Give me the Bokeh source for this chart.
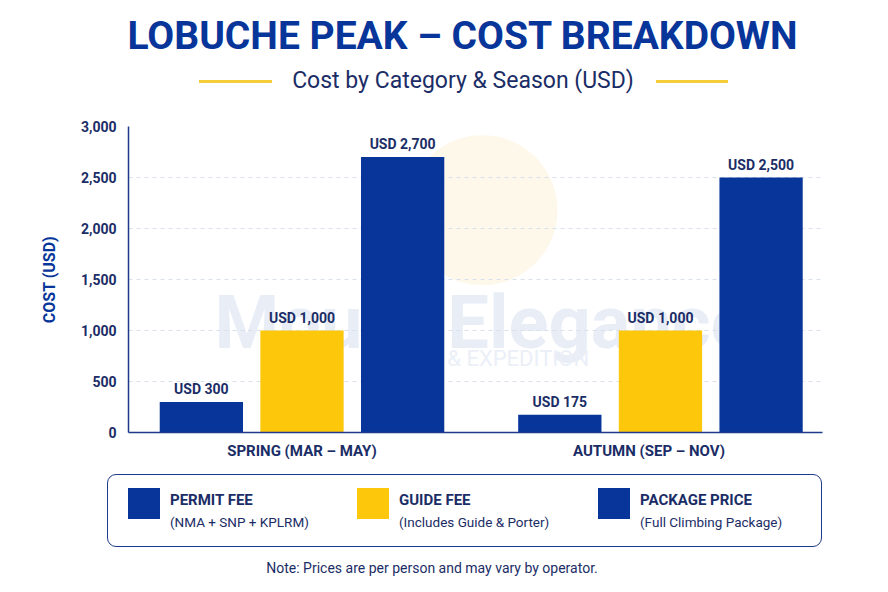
from bokeh.plotting import figure
from bokeh.models import ColumnDataSource, FactorRange, Range1d, NumeralTickFormatter, Div
from bokeh.transform import dodge
from bokeh.layouts import column
from bokeh.core.properties import value
from bokeh.embed import file_html
from bokeh.resources import INLINE

seasons = ["SPRING (MAR – MAY)", "AUTUMN (SEP – NOV)"]
categories = ["PERMIT FEE", "GUIDE FEE", "PACKAGE PRICE"]
category_notes = ["(NMA + SNP + KPLRM)", "(Includes Guide & Porter)", "(Full Climbing Package)"]
permit_fee = [300, 175]
guide_fee = [1000, 1000]
package_price = [2700, 2500]
y_ticks = [0, 500, 1000, 1500, 2000, 2500, 3000]

NAVY = "#07359a"
YELLOW = "#fdc70c"
DARK = "#1b2d66"
FONT = "Roboto"
colors = [NAVY, YELLOW, NAVY]
W = 872

# ---- header (html) ----
head_html = f"""
<div style="position:relative;width:{W}px;height:113px;font-family:{FONT};">
  <div style="position:absolute;left:0;top:15px;width:925px;text-align:center;line-height:42px;
       font-size:39px;font-weight:bold;color:{NAVY};white-space:nowrap;">LOBUCHE PEAK – COST BREAKDOWN</div>
  <div style="position:absolute;left:0;top:68px;width:926px;text-align:center;line-height:26px;
       font-size:23px;color:{DARK};white-space:nowrap;">Cost by Category &amp; Season (USD)</div>
  <div style="position:absolute;left:199px;top:80px;width:73px;height:2.5px;background:#f5cc3a;"></div>
  <div style="position:absolute;left:656px;top:80px;width:72px;height:2.5px;background:#f5cc3a;"></div>
</div>"""
head = Div(text=head_html, width=W, height=113, margin=0)

# ---- main chart ----
# one row per bar; x is a categorical coordinate with an offset inside its season
group_shift = [0.0, 0.033]
bar_off = [-0.29, 0.0, 0.29]
series = [permit_fee, guide_fee, package_price]
xs, tops, fills, lbls = [], [], [], []
for i, s in enumerate(seasons):
    for j, vals in enumerate(series):
        xs.append((s, group_shift[i] + bar_off[j]))
        tops.append(vals[i])
        fills.append(colors[j])
        lbls.append("USD {:,}".format(vals[i]))
src = ColumnDataSource(dict(x=xs, top=tops, fill=fills, lbl=lbls))

p = figure(width=W, height=352, x_range=FactorRange(*seasons), y_range=Range1d(0, 3000),
           toolbar_location=None, output_backend="svg", margin=0,
           min_border_left=128, min_border_right=50, min_border_top=13, min_border_bottom=33)
p.outline_line_color = None
p.xgrid.grid_line_color = None
p.ygrid.grid_line_color = "#d9e0ed"
p.ygrid.grid_line_dash = "4 4"
p.yaxis.ticker = y_ticks
p.yaxis.formatter = NumeralTickFormatter(format="0,0")

# faint watermark behind the bars
sun_src = ColumnDataSource(dict(season=[seasons[0]], y=[2180]))
wm_big = ColumnDataSource(dict(season=[seasons[0]], y=[1078], txt=["Mount Elegance"]))
wm_small = ColumnDataSource(dict(season=[seasons[0]], y=[725], txt=["TREKS & EXPEDITION"]))
sun = p.scatter(x=dodge("season", 0.52, range=p.x_range), y="y", source=sun_src,
                marker="circle", size=150, fill_color="#fdf8ea", line_color=None)
sun.level = "underlay"
t1 = p.text(x=dodge("season", 0.52, range=p.x_range), y="y", text="txt", source=wm_big,
            text_font=value(FONT), text_font_style="bold", text_font_size="74px",
            text_color="#e8edf6", text_align="center", text_baseline="middle")
t1.level = "underlay"
t2 = p.text(x=dodge("season", 0.52, range=p.x_range), y="y", text="txt", source=wm_small,
            text_font=value(FONT), text_font_size="22px",
            text_color="#ebeff7", text_align="center", text_baseline="middle")
t2.level = "underlay"

p.vbar(x="x", top="top", width=0.24, source=src, fill_color="fill", line_color=None)
p.text(x="x", y="top", text="lbl", source=src,
       text_font=value(FONT), text_font_style="bold", text_font_size="14px",
       text_color=DARK, text_align="center", text_baseline="bottom", y_offset=-5)

for ax in (p.xaxis, p.yaxis):
    ax.axis_line_color = "#1e3a8a"
    ax.axis_line_width = 1.5
    ax.major_tick_line_color = None
    ax.minor_tick_line_color = None
    ax.major_tick_out = 0
    ax.minor_tick_out = 0
    ax.major_label_text_font = FONT
    ax.major_label_text_font_style = "bold"
    ax.major_label_text_color = DARK
p.xaxis.major_label_text_font_size = "15px"
p.yaxis.major_label_text_font_size = "14px"
p.xaxis.major_label_standoff = 9
p.yaxis.major_label_standoff = 12
p.yaxis.axis_label = "COST (USD)"
p.yaxis.axis_label_text_font = FONT
p.yaxis.axis_label_text_font_style = "bold"
p.yaxis.axis_label_text_font_size = "16px"
p.yaxis.axis_label_text_color = NAVY
p.yaxis.axis_label_standoff = 19

# ---- legend panel + note (html) ----
items = ""
for sx, name, note, col in zip([128, 357, 598], categories, category_notes, colors):
    items += f"""
  <div style="position:absolute;left:{sx}px;top:23px;width:32px;height:31px;background:{col};"></div>
  <div style="position:absolute;left:{sx + 42}px;top:26px;line-height:18px;font-size:15px;
       font-weight:bold;color:{DARK};white-space:nowrap;">{name}</div>
  <div style="position:absolute;left:{sx + 42}px;top:48px;line-height:18px;font-size:13.5px;
       color:{DARK};white-space:nowrap;">{note.replace('&', '&amp;')}</div>"""
leg_html = f"""
<div style="position:relative;width:{W}px;height:111px;font-family:{FONT};">
  <div style="position:absolute;left:107px;top:9px;width:715px;height:73px;box-sizing:border-box;
       border:1.5px solid #1e3a8a;border-radius:9px;background:white;"></div>{items}
  <div style="position:absolute;left:0;top:94px;width:864px;text-align:center;line-height:18px;
       font-size:14px;color:{DARK};white-space:nowrap;">Note: Prices are per person and may vary by operator.</div>
</div>"""
leg = Div(text=leg_html, width=W, height=111, margin=0)

lay = column(head, p, leg, spacing=0)
open("out.html", "w").write(file_html(lay, INLINE))
